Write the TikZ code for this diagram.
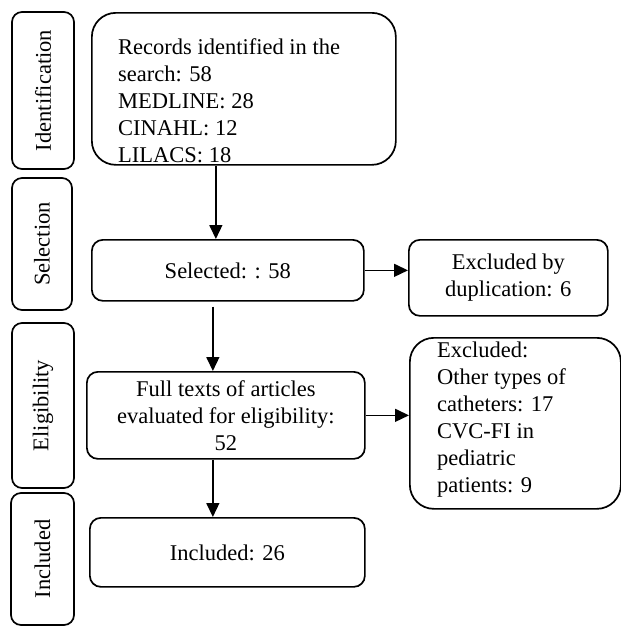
\documentclass[tikz,border=0pt]{standalone}
\usepackage{fontspec}
\setmainfont{Liberation Serif}
\usetikzlibrary{arrows.meta,calc,positioning}

\begin{document}
\begin{tikzpicture}[x=1pt,y=1pt,
  every node/.style={font=\fontsize{22.5}{27}\selectfont,align=center},
  stage/.style={draw,line width=1.7pt,rounded corners=10pt,rotate=90,inner sep=0pt},
  box/.style={draw,line width=1.7pt,rounded corners=11pt,anchor=north west,inner sep=0pt},
  arr/.style={line width=1.5pt,-{Triangle[length=14pt,width=13pt]}}]
\useasboundingbox (0,0) rectangle (621,-627);
% stage labels on the left
\node[stage,minimum width=157pt,minimum height=62pt] (ident) at (43,-90.5) {Identification};
\node[stage,minimum width=132pt,minimum height=60pt] (selec) at (42,-244) {Selection};
\node[stage,minimum width=165pt,minimum height=62pt] (elig) at (43,-405.5) {Eligibility};
\node[stage,minimum width=132pt,minimum height=63pt] (incl) at (42.5,-559) {Included};
% flow boxes
\node[box,rounded corners=24pt,minimum width=304pt,minimum height=152pt] (rec) at (91,-12) {};
\node[anchor=north west,align=left,inner sep=0pt] (rectext) at (118,-38) {Records identified in the\\search: 58\\MEDLINE: 28\\CINAHL: 12\\LILACS: 18};
\node[box,minimum width=272pt,minimum height=61pt] (sel) at (91,-239) {Selected: : 58};
\node[box,minimum width=199pt,minimum height=76pt] (dup) at (408,-239) {Excluded by\\duplication: 6};
\node[box,minimum width=278pt,minimum height=87pt] (full) at (86,-371) {Full texts of articles\\evaluated for eligibility:\\52};
\node[box,rounded corners=24pt,minimum width=211pt,minimum height=171pt] (excl) at (409,-337) {};
\node[anchor=north west,align=left,inner sep=0pt] (excltext) at (437,-342) {Excluded:\\Other types of\\catheters: 17\\CVC-FI in\\pediatric\\patients: 9};
\node[box,minimum width=275pt,minimum height=69pt] (inc) at (89,-517) {Included: 26};
% connectors
\draw[arr] ([xshift=-12pt]sel.north |- rec.south) -- ([xshift=-12pt]sel.north);
\draw[arr] (sel.east) -- (sel.east -| dup.west);
\draw[arr] ([xshift=-15pt,yshift=-5pt]sel.south) -- ([xshift=-15pt]sel.south |- full.north);
\draw[arr] (full.east) -- (full.east -| excl.west);
\draw[arr] ([xshift=-13pt]full.south) -- ([xshift=-13pt]full.south |- inc.north);
\end{tikzpicture}
\end{document}
